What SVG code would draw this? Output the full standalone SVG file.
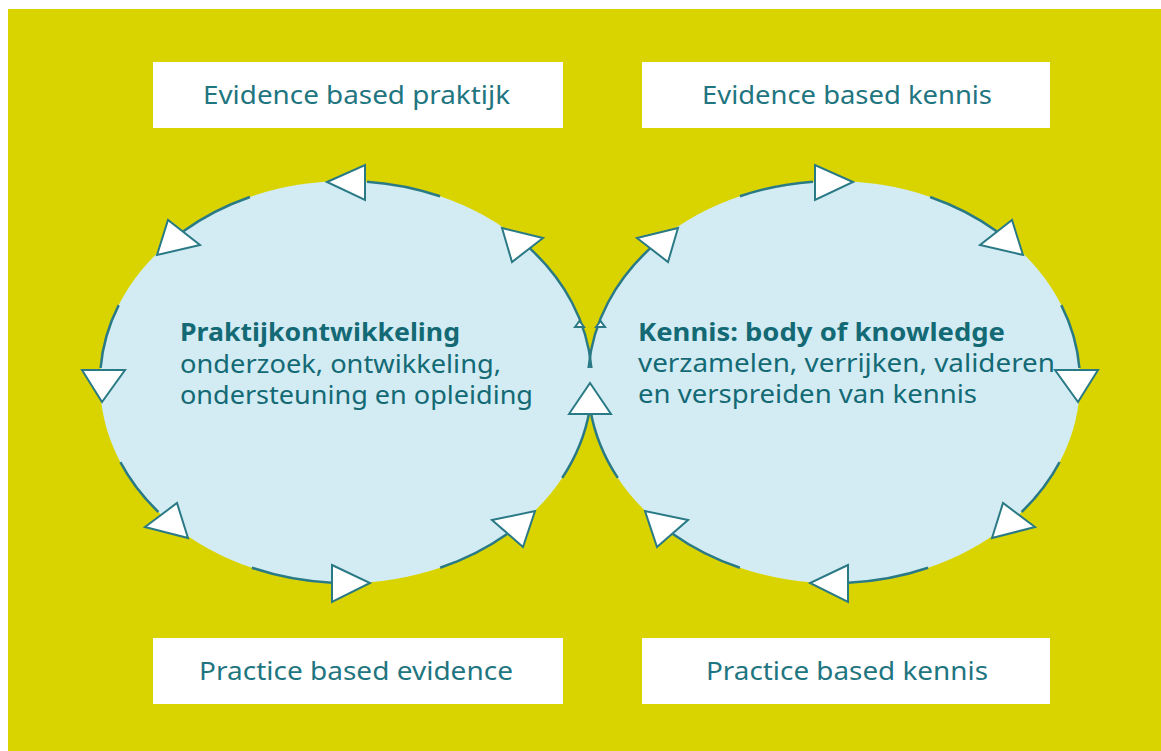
<svg xmlns="http://www.w3.org/2000/svg" width="1161" height="751" viewBox="0 0 1161 751">
<style>
.bg{fill:#d9d400}
.box{fill:#ffffff}
.lbl{font-family:"Noto Sans","Open Sans","DejaVu Sans",sans-serif;font-size:26px;fill:#1f7580}
.ell{fill:#d3ecf4}
.body{font-family:"Noto Sans","Open Sans","DejaVu Sans",sans-serif;font-size:25px;fill:#136a74}
.bold{font-weight:bold}
.arc{fill:none;stroke:#2a7a86;stroke-width:2.5}
.head{fill:#ffffff;stroke:#2a7a86;stroke-width:2;stroke-linejoin:miter}
</style>
<rect x="0" y="0" width="1161" height="751" fill="#ffffff"/>
<rect class="bg" x="8" y="9" width="1153" height="742"/>

<g id="box-evidence-praktijk">
<rect class="box" x="153" y="62" width="410" height="66"/>
<text class="lbl" x="203" y="104" textLength="307" lengthAdjust="spacingAndGlyphs">Evidence based praktijk</text>
</g>
<g id="box-evidence-kennis">
<rect class="box" x="642" y="62" width="408" height="66"/>
<text class="lbl" x="702" y="104" textLength="290" lengthAdjust="spacingAndGlyphs">Evidence based kennis</text>
</g>
<g id="box-practice-evidence">
<rect class="box" x="153" y="638" width="410" height="66"/>
<text class="lbl" x="199" y="680" textLength="314" lengthAdjust="spacingAndGlyphs">Practice based evidence</text>
</g>
<g id="box-practice-kennis">
<rect class="box" x="642" y="638" width="408" height="66"/>
<text class="lbl" x="706" y="680" textLength="282" lengthAdjust="spacingAndGlyphs">Practice based kennis</text>
</g>

<g id="circle-praktijk">
<ellipse class="ell" cx="346" cy="382" rx="246" ry="201"/>
</g>
<g id="circle-kennis">
<ellipse class="ell" cx="834" cy="382" rx="246" ry="201"/>
</g>

<g id="connectors">
<path class="arc" d="M367.0,181.7 A246,201 0 0 1 440.1,196.3 M183.0,231.5 A246,201 0 0 1 249.9,197.0 M100.6,368.0 A246,201 0 0 1 118.7,305.1 M158.4,512.0 A246,201 0 0 1 120.4,462.1 M331.8,582.7 A246,201 0 0 1 251.9,567.7 M507.1,533.9 A246,201 0 0 1 440.1,567.7 M589.6,410.0 A246,201 0 0 1 562.2,477.9 M527.1,245.9 A246,201 0 0 1 591.4,368.0"/>
<path class="arc" d="M813.0,181.7 A246,201 0 0 0 739.9,196.3 M997.0,231.5 A246,201 0 0 0 930.1,197.0 M1079.4,368.0 A246,201 0 0 0 1061.3,305.1 M1021.6,512.0 A246,201 0 0 0 1059.6,462.1 M848.2,582.7 A246,201 0 0 0 928.1,567.7 M672.9,533.9 A246,201 0 0 0 739.9,567.7 M590.4,410.0 A246,201 0 0 0 617.8,477.9 M652.9,245.9 A246,201 0 0 0 588.6,368.0"/>
<polygon class="head" points="327,182 365,165 365,200"/>
<polygon class="head" points="157,255 168,220 200,245"/>
<polygon class="head" points="502,228 543,238 512,262"/>
<polygon class="head" points="82,370 125,370 102,402"/>
<polygon class="head" points="145,527 177,503 188,538"/>
<polygon class="head" points="332,565 370,583 332,602"/>
<polygon class="head" points="492,520 535,511 523,547"/>
<polygon class="head" points="853,182 815,165 815,200"/>
<polygon class="head" points="1023,255 1012,220 980,245"/>
<polygon class="head" points="678,228 637,238 668,262"/>
<polygon class="head" points="1098,370 1055,370 1078,402"/>
<polygon class="head" points="1035,527 1003,503 992,538"/>
<polygon class="head" points="848,565 810,583 848,602"/>
<polygon class="head" points="688,520 645,511 657,547"/>
<polygon class="head" points="575,327 579.5,321 584,327"/>
<polygon class="head" points="596,327 600.5,321 605,327"/>
<polygon class="head" points="569,414 590,383 611,414"/>
</g>

<g id="text-praktijk">
<text class="body bold" x="180" y="341" textLength="280" lengthAdjust="spacingAndGlyphs">Praktijkontwikkeling</text>
<text class="body" x="180" y="373" textLength="321" lengthAdjust="spacingAndGlyphs">onderzoek, ontwikkeling,</text>
<text class="body" x="180" y="404" textLength="353" lengthAdjust="spacingAndGlyphs">ondersteuning en opleiding</text>
</g>
<g id="text-kennis">
<text class="body bold" x="638" y="341" textLength="367" lengthAdjust="spacingAndGlyphs">Kennis: body of knowledge</text>
<text class="body" x="638" y="372" textLength="417" lengthAdjust="spacingAndGlyphs">verzamelen, verrijken, valideren</text>
<text class="body" x="638" y="403" textLength="339" lengthAdjust="spacingAndGlyphs">en verspreiden van kennis</text>
</g>
</svg>
